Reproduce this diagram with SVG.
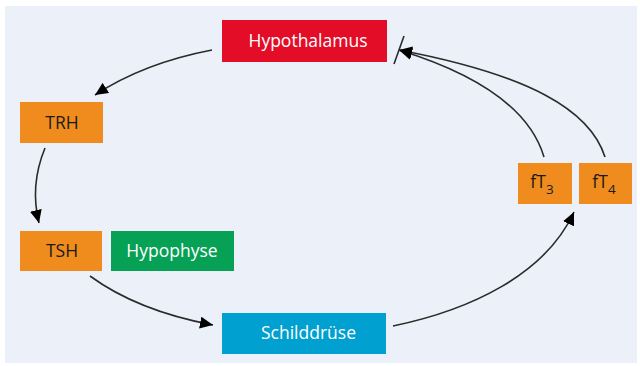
<svg xmlns="http://www.w3.org/2000/svg" width="640" height="366" viewBox="0 0 640 366">
<defs>
<style>
.lbl{font-family:"Open Sans","Liberation Sans",sans-serif;font-size:17.5px;text-anchor:middle}
.w{fill:#ffffff}
.k{fill:#1a1a1a}
.con{fill:none;stroke:#2b2b2b;stroke-width:1.6}
.or{fill:#F08C1E}
</style>
<marker id="ah" markerUnits="userSpaceOnUse" markerWidth="14" markerHeight="12" refX="13" refY="6" orient="auto">
<path d="M0,0 L13,6 L0,12 z" fill="#000"/>
</marker>
</defs>
<rect x="5" y="6" width="632" height="357" fill="#ECF0F9"/>
<g id="connectors">
<path class="con" d="M212,50 C170,58 130,72 95,95" marker-end="url(#ah)"/>
<path class="con" d="M45,148 C36,170 32,195 39,223" marker-end="url(#ah)"/>
<path class="con" d="M90,276 C120,298 160,315 213,325" marker-end="url(#ah)"/>
<path class="con" d="M393,326 C470,310 545,275 574,212" marker-end="url(#ah)"/>
<path class="con" d="M544,157 C530,110 480,75 399,50" marker-end="url(#ah)"/>
<path class="con" d="M605,157 C590,110 530,75 399,50" marker-end="url(#ah)"/>
<line class="con" x1="404" y1="36" x2="394" y2="64"/>
</g>
<g id="hypothalamus">
<rect x="222" y="20" width="165" height="42" fill="#E30D27"/>
<text class="lbl w" x="308" y="47">Hypothalamus</text>
</g>
<g id="trh">
<rect class="or" x="20" y="102" width="83" height="41"/>
<text class="lbl k" x="62" y="129">TRH</text>
</g>
<g id="tsh">
<rect class="or" x="20" y="231" width="82" height="40"/>
<text class="lbl k" x="62" y="257">TSH</text>
</g>
<g id="hypophyse">
<rect x="111" y="231" width="123" height="40" fill="#07A155"/>
<text class="lbl w" x="172" y="257">Hypophyse</text>
</g>
<g id="schilddruese">
<rect x="222" y="313" width="164" height="41" fill="#00A0D0"/>
<text class="lbl w" x="308.5" y="339">Schilddrüse</text>
</g>
<g id="ft3">
<rect class="or" x="518" y="163" width="54" height="41"/>
<text class="lbl k" x="542" y="188">fT<tspan font-size="13.5" dy="6">3</tspan></text>
</g>
<g id="ft4">
<rect class="or" x="579" y="163" width="53" height="41"/>
<text class="lbl k" x="604" y="188">fT<tspan font-size="13.5" dy="6">4</tspan></text>
</g>
</svg>
